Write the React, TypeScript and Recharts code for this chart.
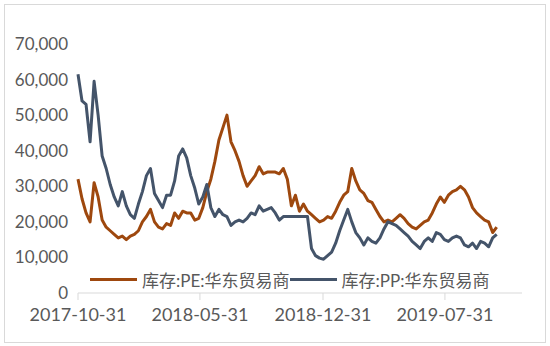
import { LineChart, Line, XAxis, YAxis, Legend } from 'recharts';

// weekly readings, first point on 2017-10-31
const START_DATE = '2017-10-31';
const STEP_DAYS = 7;

const PE_VALUES = [
  32000, 26500, 22500, 20000, 31000, 27000, 20500, 18500, 17500, 16500,
  15500, 16000, 15000, 16000, 16500, 17500, 20000, 21500, 23500, 20000,
  18500, 18000, 19500, 19000, 22500, 21000, 23000, 22500, 22500, 20500,
  21000, 24000, 28500, 32000, 37000, 43000, 46500, 50000, 42500, 40000,
  37000, 33000, 30000, 31500, 33000, 35500, 33500, 34000, 34000, 34000,
  33500, 35000, 32000, 24500, 27500, 23000, 25000, 23000, 22000, 21000,
  20000, 20500, 21500, 21000, 23000, 25500, 27500, 28500, 35000, 31500,
  29000, 28000, 26000, 25500, 23500, 21500, 20000, 20500, 20000, 21000,
  22000, 21000, 19500, 18500, 18000, 19000, 20000, 20500, 22500, 25000,
  27000, 25500, 27500, 28500, 29000, 30000, 29000, 27000, 24000, 22500,
  21500, 20500, 20000, 17000, 18500,
];

const PP_VALUES = [
  61500, 54000, 53000, 42500, 59500, 50000, 38500, 35000, 30500, 27000,
  24500, 28500, 24500, 22000, 21000, 25000, 28500, 33000, 35000, 28000,
  26000, 24000, 27500, 27500, 31500, 38500, 40500, 38000, 33000, 29500,
  25000, 27000, 30500, 24000, 21500, 23500, 22000, 21500, 19000, 20000,
  20500, 20000, 21000, 22500, 22000, 24500, 23000, 23500, 24000, 22500,
  20500, 21500, 21500, 21500, 21500, 21500, 21500, 21500, 12500, 10500,
  9800, 9500, 10500, 11500, 14000, 17500, 20500, 23500, 20000, 17000,
  15500, 13500, 15500, 14500, 14000, 15500, 18000, 20000, 19500, 19000,
  18000, 17000, 16000, 14500, 13500, 12500, 14500, 15500, 14500, 17000,
  16500, 15000, 14500, 15500, 16000, 15500, 13500, 13000, 14000, 12500,
  14500, 14000, 13000, 15500, 16500,
];

const X_TICK_LABELS = ['2017-10-31', '2018-05-31', '2018-12-31', '2019-07-31'];
const Y_TICKS = [0, 10000, 20000, 30000, 40000, 50000, 60000, 70000];

const SERIES = [
  { key: 'pe', name: '库存:PE:华东贸易商', color: '#9E480E' },
  { key: 'pp', name: '库存:PP:华东贸易商', color: '#44546A' },
];

const FONT = 'Lato, "Noto Sans CJK SC", sans-serif';
const TEXT = '#595959';

const DAY = 24 * 3600 * 1000;
const dayOffset = (d: string) => Math.round((Date.parse(d) - Date.parse(START_DATE)) / DAY);

const data = PE_VALUES.map((pe, i) => ({ day: i * STEP_DAYS, pe, pp: PP_VALUES[i] }));
const xTicks = X_TICK_LABELS.map(dayOffset);
const tickLabel: Record<number, string> = {};
X_TICK_LABELS.forEach((l, i) => (tickLabel[xTicks[i]] = l));

const renderLegend = () => (
  <div style={{ display: 'flex', alignItems: 'center', fontFamily: FONT, fontSize: 17, color: TEXT, whiteSpace: 'nowrap' }}>
    {SERIES.map((s) => (
      <div key={s.key} style={{ display: 'flex', alignItems: 'center' }}>
        <span style={{ display: 'inline-block', width: 47, height: 3, background: s.color, marginRight: 5 }} />
        <span>{s.name}</span>
      </div>
    ))}
  </div>
);

export default function App() {
  return (
    <div style={{ position: 'relative', width: 550, height: 346, background: '#fff' }}>
      <style>{'body{margin:0}'}</style>
      <div style={{ position: 'absolute', left: 4, top: 4, width: 540, height: 337, border: '1px solid #d9d9d9' }} />
      <LineChart width={550} height={346} data={data} margin={{ top: 44, right: 28, bottom: 0, left: 0 }}>
        <XAxis
          dataKey="day"
          type="number"
          domain={[0, 772]}
          ticks={xTicks}
          interval={0}
          tickFormatter={(v: number) => tickLabel[v] ?? ''}
          height={53}
          stroke="#d9d9d9"
          tickSize={7}
          tickMargin={8}
          tick={{ fill: TEXT, fontSize: 18, fontFamily: FONT }}
        />
        <YAxis
          domain={[0, 70000]}
          ticks={Y_TICKS}
          interval={0}
          width={78}
          axisLine={false}
          tickLine={false}
          tickSize={0}
          tickMargin={10}
          tickFormatter={(v: number) => v.toLocaleString('en-US')}
          tick={{ fill: TEXT, fontSize: 17, fontFamily: FONT }}
        />
        <Legend
          content={renderLegend}
          layout="horizontal"
          verticalAlign="middle"
          align="center"
          wrapperStyle={{ top: 267, left: 90, width: 'auto' }}
        />
        {SERIES.map((s) => (
          <Line
            key={s.key}
            dataKey={s.key}
            name={s.name}
            stroke={s.color}
            strokeWidth={3}
            dot={false}
            strokeLinejoin="round"
            isAnimationActive={false}
          />
        ))}
      </LineChart>
    </div>
  );
}
